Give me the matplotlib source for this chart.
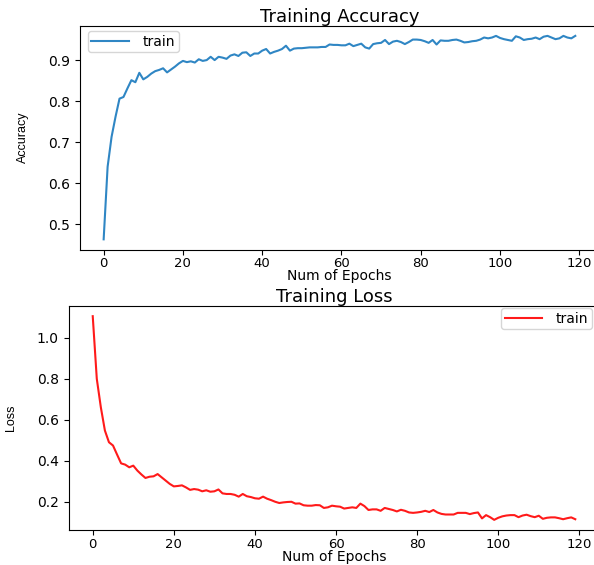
import matplotlib
matplotlib.use("Agg")
import matplotlib.pyplot as plt
import numpy as np

epochs = np.arange(120)

train_accuracy = [
    0.463, 0.640, 0.713, 0.762, 0.806, 0.810, 0.831, 0.851, 0.846, 0.869,
    0.853, 0.859, 0.867, 0.873, 0.876, 0.880, 0.870, 0.877, 0.884, 0.892,
    0.898, 0.895, 0.897, 0.894, 0.902, 0.898, 0.900, 0.908, 0.900, 0.908,
    0.906, 0.903, 0.911, 0.914, 0.910, 0.918, 0.919, 0.910, 0.916, 0.916,
    0.923, 0.927, 0.916, 0.920, 0.923, 0.927, 0.935, 0.923, 0.928, 0.929,
    0.929, 0.930, 0.931, 0.931, 0.931, 0.932, 0.932, 0.938, 0.937, 0.937,
    0.936, 0.936, 0.940, 0.934, 0.937, 0.940, 0.931, 0.928, 0.939, 0.941,
    0.942, 0.949, 0.939, 0.945, 0.947, 0.944, 0.939, 0.944, 0.950, 0.950,
    0.949, 0.946, 0.942, 0.949, 0.938, 0.948, 0.947, 0.947, 0.949, 0.950,
    0.947, 0.943, 0.944, 0.946, 0.947, 0.950, 0.955, 0.953, 0.955, 0.959,
    0.954, 0.951, 0.949, 0.947, 0.958, 0.955, 0.949, 0.951, 0.952, 0.955,
    0.951, 0.957, 0.959, 0.955, 0.951, 0.953, 0.959, 0.955, 0.953, 0.959,
]

train_loss = [
    1.105, 0.800, 0.661, 0.548, 0.491, 0.475, 0.431, 0.388, 0.382, 0.369,
    0.377, 0.353, 0.334, 0.317, 0.323, 0.325, 0.336, 0.320, 0.304, 0.288,
    0.276, 0.278, 0.281, 0.271, 0.259, 0.263, 0.260, 0.252, 0.257, 0.250,
    0.252, 0.261, 0.242, 0.239, 0.239, 0.235, 0.226, 0.239, 0.228, 0.224,
    0.218, 0.216, 0.226, 0.216, 0.209, 0.201, 0.195, 0.198, 0.200, 0.201,
    0.192, 0.193, 0.184, 0.182, 0.182, 0.185, 0.184, 0.171, 0.174, 0.182,
    0.179, 0.177, 0.168, 0.171, 0.174, 0.171, 0.192, 0.180, 0.161, 0.164,
    0.164, 0.157, 0.171, 0.166, 0.161, 0.154, 0.162, 0.157, 0.149, 0.147,
    0.149, 0.152, 0.157, 0.151, 0.161, 0.149, 0.142, 0.139, 0.139, 0.139,
    0.147, 0.147, 0.147, 0.141, 0.146, 0.149, 0.120, 0.136, 0.126, 0.113,
    0.123, 0.130, 0.134, 0.136, 0.136, 0.126, 0.134, 0.138, 0.131, 0.126,
    0.133, 0.118, 0.123, 0.125, 0.125, 0.121, 0.116, 0.121, 0.125, 0.116,
]

x_ticks = [0, 20, 40, 60, 80, 100, 120]
acc_ticks = [0.5, 0.6, 0.7, 0.8, 0.9]
loss_ticks = [0.2, 0.4, 0.6, 0.8, 1.0]

narrow = ["Liberation Sans Narrow", "Liberation Sans", "DejaVu Sans"]
legend_kw = dict(fontsize=10, borderpad=0.25, handlelength=2.7,
                 handletextpad=1.0, borderaxespad=0.0)


def style_axis(ax, title, ylabel, yticks, xlabel_y):
    ax.set_title(title, fontsize=13, pad=1.5)
    ax.set_xlabel("Num of Epochs", fontsize=10)
    ax.xaxis.set_label_coords(0.5, xlabel_y)
    ax.set_ylabel(ylabel, fontsize=9, family=narrow)
    ax.yaxis.set_label_coords(-0.098, 0.5)
    ax.set_xticks(x_ticks)
    ax.set_yticks(yticks)
    ax.tick_params(axis="x", labelsize=9.5, length=3.5, pad=2)
    ax.tick_params(axis="y", labelsize=10)


fig = plt.figure(figsize=(5.94, 5.65), dpi=100)

# accuracy panel
ax1 = fig.add_axes([0.1348, 0.5584, 0.8734, 0.3961])
ax1.plot(epochs, train_accuracy, color="#2f86c4", lw=1.5, label="train")
style_axis(ax1, "Training Accuracy", "Accuracy", acc_ticks, -0.088)
ax1.legend(loc="upper left", bbox_to_anchor=(0.015, 0.976), **legend_kw)

# loss panel
ax2 = fig.add_axes([0.1155, 0.0619, 0.8936, 0.3965])
ax2.plot(epochs, train_loss, color="#ff1a1a", lw=1.5, label="train")
style_axis(ax2, "Training Loss", "Loss", loss_ticks, -0.088)
ax2.legend(loc="upper right", bbox_to_anchor=(0.986, 0.99), **legend_kw)

fig.savefig("out.png", dpi=100)
